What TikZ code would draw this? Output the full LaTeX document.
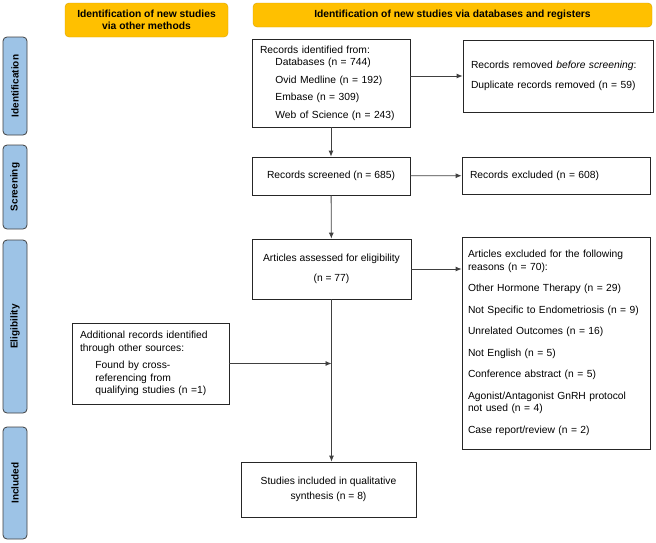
\documentclass[tikz,border=0pt]{standalone}
\usepackage{fontspec}
\setmainfont{Liberation Sans}
\usepackage{tikz}
\usetikzlibrary{arrows.meta}
\usetikzlibrary{positioning}
\definecolor{headorange}{HTML}{FFC000}
\definecolor{headedge}{HTML}{D9A300}
\definecolor{tabblue}{HTML}{9DC3E6}
\definecolor{tabedge}{HTML}{404040}
\tikzset{header/.style={draw=headedge, fill=headorange, rounded corners=4pt,
    font=\fontsize{10.3}{12.5}\selectfont\bfseries, align=center, inner sep=2pt},
  phase/.style={draw=tabedge, fill=tabblue, rounded corners=4pt, thick,
    minimum height=24pt, rotate=90, font=\fontsize{10}{12}\selectfont\bfseries},
  record/.style={draw=black!85, thick, font=\fontsize{10.3}{12.5}\selectfont,
    inner xsep=8pt, inner ysep=3pt},
  flow/.style={draw=black!75, thick, -{Latex[length=6pt,width=5pt]}}}

\begin{document}
\begin{tikzpicture}[x=1pt, y=-1pt]
  \useasboundingbox (0,0) rectangle (656,542);

  % headers
  \node[header, minimum width=163pt, minimum height=34pt] (hother) at (146.5,20)
    {Identification of new studies\\via other methods};
  \node[header, minimum width=399pt, minimum height=24pt] (hdb) at (452.5,15)
    {Identification of new studies via databases and registers};

  % phases
  \node[phase, minimum width=98pt] (pident) at (15,86) {Identification};
  \node[phase, minimum width=84pt] (pscreen) at (15,187) {Screening};
  \node[phase, minimum width=173pt] (pelig) at (15,326.5) {Eligibility};
  \node[phase, minimum width=112pt] (pincl) at (15,483) {Included};

  % records
  \node[record, minimum width=158pt, minimum height=88pt, text width=142pt, align=left]
    (ident) at (331,83)
    {Records identified from:\\
     \hspace*{1.5em}Databases (n = 744)\\[5pt]
     \hspace*{1.5em}Ovid Medline (n = 192)\\[5pt]
     \hspace*{1.5em}Embase (n = 309)\\[5pt]
     \hspace*{1.5em}Web of Science (n = 243)};
  \node[record, minimum width=190pt, minimum height=72pt, text width=174pt, align=left]
    (removed) at (558,76)
    {Records removed \textit{before screening}:\\[8pt]
     Duplicate records removed (n = 59)};
  \node[record, minimum width=158pt, minimum height=38pt] (screened) at (331,176)
    {Records screened (n = 685)};
  \node[record, minimum width=188pt, minimum height=37pt, text width=172pt, align=left]
    (excluded) at (556,175.5) {Records excluded (n = 608)};
  \node[record, minimum width=159pt, minimum height=60pt, align=center]
    (assessed) at (331.5,269)
    {Articles assessed for eligibility\\[7pt](n = 77)};
  \node[record, minimum width=188pt, minimum height=212pt, text width=176pt, align=left,
    inner xsep=6pt] (reasons) at (556,343)
    {Articles excluded for the following\\reasons (n = 70):\\[9pt]
     Other Hormone Therapy (n = 29)\\[9pt]
     Not Specific to Endometriosis (n = 9)\\[9pt]
     Unrelated Outcomes (n = 16)\\[9pt]
     Not English (n = 5)\\[9pt]
     Conference abstract (n = 5)\\[9pt]
     Agonist/Antagonist GnRH protocol\\not used (n = 4)\\[9pt]
     Case report/review (n = 2)};
  \node[record, minimum width=157pt, minimum height=81pt, text width=141pt, align=left]
    (additional) at (150.5,363.5)
    {Additional records identified\\through other sources:\\[5pt]
     \hspace*{1.5em}Found by cross-\\
     \hspace*{1.5em}referencing from\\
     \hspace*{1.5em}qualifying studies (n =1)};
  \node[record, minimum width=175pt, minimum height=55pt, align=center]
    (included) at (328.5,489.5)
    {Studies included in qualitative\\[2pt]synthesis (n = 8)};

  \coordinate (join) at (assessed.south |- additional.east);

  \draw[flow] (ident.east |- removed.west) -- (removed.west);
  \draw[flow] (ident) -- (screened);
  \draw[flow] (screened) -- (excluded);
  \draw[flow] (screened) -- (assessed);
  \draw[flow] (assessed.east) -- (assessed.east -| reasons.west);
  \draw[flow] (assessed.south) -- (assessed.south |- included.north);
  \draw[flow] (additional.east) -- (join);
\end{tikzpicture}
\end{document}
